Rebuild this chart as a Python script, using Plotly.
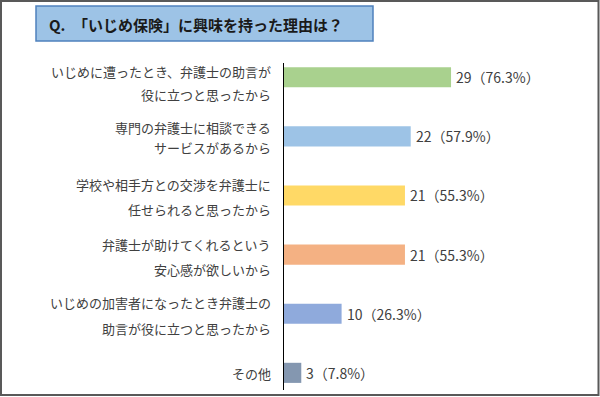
import plotly.graph_objects as go

# ---- data ----
categories = ["遭った", "相談", "交渉", "安心感", "加害者", "その他"]
label_lines = [
    ["いじめに遭ったとき、弁護士の助言が", "役に立つと思ったから"],
    ["専門の弁護士に相談できる", "サービスがあるから"],
    ["学校や相手方との交渉を弁護士に", "任せられると思ったから"],
    ["弁護士が助けてくれるという", "安心感が欲しいから"],
    ["いじめの加害者になったとき弁護士の", "助言が役に立つと思ったから"],
    ["その他"],
]
counts = [29, 22, 21, 21, 10, 3]
percents = [76.3, 57.9, 55.3, 55.3, 26.3, 7.8]
title_text = "Q.　「いじめ保険」に興味を持った理由は？"

# ---- styles ----
bar_colors = ["#A9D18E", "#9DC3E6", "#FFD966", "#F4B183", "#8FAADC", "#8497B0"]
line_offsets = [[-6, 17], [-9, 11], [-11, 14], [-10, 15], [-11, 15], [1]]  # px below bar centre
FONT = "Noto Sans CJK JP"

W, H = 600, 397
ML, MR, MT, MB = 284, 16, 63, 7
PW, PH = W - ML - MR, H - MT - MB


def px_x(p):
    return (p - ML) / PW


def px_y(p):
    return (H - MB - p) / PH


fig = go.Figure(
    go.Bar(
        x=counts,
        y=categories,
        orientation="h",
        marker=dict(color=bar_colors, line=dict(width=0)),
        width=0.34,
        hoverinfo="skip",
    )
)

annotations = []
for cat, n, pct in zip(categories, counts, percents):
    annotations.append(dict(
        x=n, y=cat, xref="x", yref="y", text=f"{n}（{pct}%）",
        showarrow=False, xanchor="left", yanchor="middle", xshift=3,
        font=dict(family=FONT, size=14, color="#404040"),
    ))
for cat, lines, offs in zip(categories, label_lines, line_offsets):
    for line, off in zip(lines, offs):
        annotations.append(dict(
            x=px_x(273), y=cat, xref="paper", yref="y", text=line,
            showarrow=False, xanchor="right", yanchor="middle", yshift=-off,
            font=dict(family=FONT, size=13, color="#404040"),
        ))
annotations.append(dict(
    x=px_x(47), y=px_y(24), xref="paper", yref="paper", text=f"<b>{title_text}</b>",
    showarrow=False, xanchor="left", yanchor="middle",
    font=dict(family=FONT, size=15, color="#1a1a1a"),
))

shapes = [
    dict(type="rect", xref="paper", yref="paper",
         x0=px_x(1), x1=px_x(598.5), y0=px_y(395), y1=px_y(1),
         line=dict(color="#595959", width=2), fillcolor="rgba(0,0,0,0)", layer="above"),
    dict(type="rect", xref="paper", yref="paper",
         x0=px_x(36), x1=px_x(373), y0=px_y(41), y1=px_y(6),
         line=dict(color="#4F81BD", width=1.5), fillcolor="#9DC3E6", layer="below"),
]

fig.update_layout(
    width=W, height=H,
    margin=dict(l=ML, r=MR, t=MT, b=MB),
    paper_bgcolor="white", plot_bgcolor="white",
    showlegend=False,
    xaxis=dict(range=[0, PW / 5.76], showgrid=False, zeroline=False,
               showticklabels=False, ticks="", showline=False),
    yaxis=dict(range=[5.29, -0.24], showgrid=False, zeroline=False,
               showticklabels=False, ticks="", showline=True,
               linecolor="#000000", linewidth=1.5),
    annotations=annotations,
    shapes=shapes,
    font=dict(family=FONT),
)

fig.write_html(
    "out.html",
    config={"displayModeBar": False, "staticPlot": True},
    post_script="document.body.style.margin='0';document.body.style.overflow='hidden';",
)
